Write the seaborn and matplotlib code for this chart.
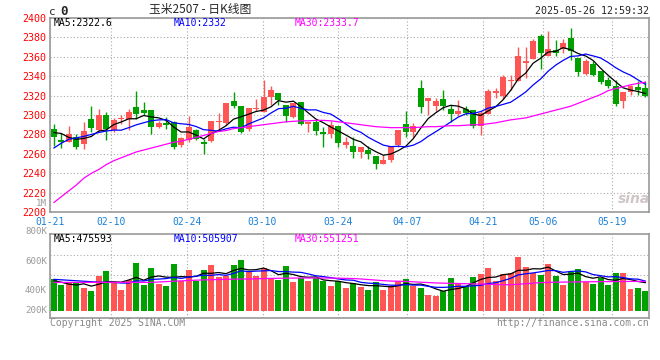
import numpy as np
import pandas as pd
import seaborn as sns
import matplotlib.pyplot as plt

# trading days shown (DCE calendar, holidays removed)
holidays = ["2025-01-28", "2025-01-29", "2025-01-30", "2025-01-31", "2025-02-03",
            "2025-02-04", "2025-04-04", "2025-05-01", "2025-05-02", "2025-05-05"]
tick_dates = ["01-21", "02-10", "02-24", "03-10", "03-24", "04-07", "04-21", "05-06", "05-19"]

opens = [2286, 2274, 2272, 2277, 2270, 2296, 2284.5, 2300, 2284.5, 2296,
         2296, 2308, 2305, 2305, 2288, 2292, 2293, 2269.4, 2274, 2284.6,
         2272, 2273, 2292.5, 2292, 2314, 2309, 2286, 2306, 2302.6, 2319,
         2323, 2310, 2298, 2313, 2291, 2293, 2282.5, 2280, 2289, 2269,
         2268, 2262, 2264.4, 2258, 2250, 2253.5, 2269.4, 2290.6, 2282.6, 2328,
         2314.5, 2309.4, 2316, 2306, 2300.7, 2306, 2305, 2289, 2301, 2323,
         2319.5, 2334.6, 2335, 2353, 2357.5, 2381.7, 2361, 2367, 2368, 2379,
         2359, 2342, 2352, 2345, 2336, 2330, 2314.5, 2323.6, 2329, 2328]
highs = [2291, 2281, 2289, 2280.5, 2293, 2309, 2306, 2303, 2297, 2300,
         2306, 2325, 2313, 2305, 2294, 2298, 2294, 2277, 2299, 2286,
         2275.5, 2294, 2302, 2312, 2324, 2309, 2307, 2316, 2336, 2330,
         2323, 2310, 2312, 2313, 2293, 2296, 2288, 2294, 2289, 2277,
         2277, 2267, 2268, 2258, 2259, 2268, 2284.6, 2303.6, 2292, 2336,
         2317, 2317.6, 2326, 2310, 2315, 2309, 2305, 2304, 2327, 2328,
         2341, 2341, 2370, 2370, 2378, 2383, 2386.7, 2377, 2377.6, 2389,
         2359, 2357.5, 2355.5, 2345, 2339, 2335.6, 2324, 2331, 2334.6, 2334.6]
lows = [2268, 2266, 2272, 2265, 2265, 2283, 2284, 2274, 2283, 2291,
        2284.6, 2296, 2300, 2280.5, 2287, 2285.6, 2265, 2267, 2272, 2274,
        2260, 2272, 2284, 2290, 2307, 2281.6, 2284, 2304, 2302.6, 2310.6,
        2310, 2293, 2297, 2290, 2283, 2279, 2267.5, 2276.6, 2267, 2266,
        2256, 2256, 2255, 2244, 2250, 2252, 2267, 2277, 2277.5, 2302,
        2300, 2304, 2305.4, 2293, 2299.4, 2300, 2287, 2279, 2301, 2317,
        2316, 2326, 2335, 2338, 2357.5, 2347, 2361, 2360.5, 2364, 2357,
        2340, 2341, 2340, 2332, 2328, 2309, 2307, 2321, 2321, 2318]
closes = [2277, 2272, 2280, 2267, 2283.5, 2287, 2300, 2285.6, 2294.6, 2297,
          2303, 2300.7, 2302, 2287.6, 2292, 2290, 2267, 2276, 2288, 2275.5,
          2270.5, 2294, 2293, 2312, 2309, 2283, 2307, 2307, 2319, 2326,
          2315, 2299, 2312, 2291, 2293, 2284, 2280, 2290, 2271, 2272,
          2262, 2267, 2260.4, 2250, 2254, 2268, 2284.6, 2283, 2289, 2308.4,
          2317, 2314, 2309.4, 2301, 2304, 2302, 2288.6, 2302, 2324.6, 2325,
          2338.7, 2336, 2360.5, 2355, 2376, 2364, 2368, 2364, 2374, 2366,
          2344, 2355.5, 2341, 2334, 2330, 2311, 2324, 2329.6, 2326, 2320]
# volume, thousands of lots
volumes = [530, 470, 488, 488, 439, 407, 568, 618, 488, 418,
           523, 705, 470, 649, 481, 460, 692, 513, 628, 513,
           628, 684, 555, 568, 684, 734, 604, 568, 653, 547,
           523, 674, 505, 541, 516, 541, 516, 463, 513, 442,
           495, 453, 418, 505, 418, 460, 513, 530, 460, 439,
           365, 355, 407, 547, 495, 460, 558, 583, 653, 516,
           586, 600, 768, 660, 594, 576, 695, 568, 470, 611,
           639, 505, 484, 541, 470, 600, 600, 428, 439, 407]

# moving averages: the first points depend on days before the window
ma5_head = [2282, 2281, 2277, 2275]
ma10_head = [2266, 2271, 2275, 2276.5, 2278, 2280, 2282, 2283.5, 2284.5]
ma30 = [2210, 2216, 2222, 2228, 2235, 2240, 2244, 2249, 2253, 2256,
        2259, 2262, 2264, 2266, 2268, 2270, 2272, 2273, 2275, 2277,
        2279, 2281, 2283, 2284, 2286, 2287, 2288, 2289, 2290, 2291,
        2292, 2293, 2293.5, 2294, 2294, 2294.5, 2294.5, 2294, 2293, 2292,
        2291, 2290, 2289, 2288, 2287.5, 2287, 2287, 2287, 2287, 2287.5,
        2288, 2288, 2288.5, 2289, 2289, 2289.5, 2290, 2290, 2291, 2292,
        2293.5, 2295, 2296, 2297, 2299, 2301, 2303, 2305, 2307, 2309,
        2312, 2315, 2318, 2321, 2325, 2327, 2329, 2331, 2332.5, 2333.7]
vol_ma5_head = [515, 500, 480, 470]
vol_ma10_head = [530, 525, 520, 515, 510, 505, 500, 498, 497]
vol_ma30 = [498, 498, 498, 498, 498, 498, 498, 498, 498, 498,
            498, 498, 498, 498, 502, 506, 510, 514, 518, 521,
            524, 526, 528, 530, 532, 533, 534, 536, 538, 540,
            541, 542, 543, 544, 544, 544, 544, 543, 542, 540,
            538, 534, 528, 522, 516, 512, 510, 508, 504, 500,
            496, 492, 490, 488, 486, 484, 482, 480, 478, 476,
            474, 473, 478, 484, 490, 495, 498, 500, 501, 502,
            503, 504, 505, 506, 506, 507, 507, 508, 508, 508]

ma_labels = ["MA5:2322.6", "MA10:2332", "MA30:2333.7"]
vol_ma_labels = ["MA5:475593", "MA10:505907", "MA30:551251"]
price_ticks = list(range(2200, 2401, 20))
vol_labels = ["1M", "800K", "600K", "400K", "200K"]

RED, GREEN = "#ff5555", "#00a000"
MA_COLORS = ["black", "#0000ff", "#ff00ff"]
GRID = dict(color="#aaaaaa", linestyle=(0, (1, 2)), linewidth=0.8)

days = pd.bdate_range("2025-01-21", "2025-05-26")
days = days[~days.isin(pd.to_datetime(holidays))]
labels = days.strftime("%m-%d")
df = pd.DataFrame({"open": opens, "high": highs, "low": lows, "close": closes,
                   "vol": volumes}, index=labels)
df["x"] = np.arange(len(df))
df["up"] = df["close"] >= df["open"]
df["ma5"] = df["close"].rolling(5).mean()
df["ma10"] = df["close"].rolling(10).mean()
df.iloc[:4, df.columns.get_loc("ma5")] = ma5_head
df.iloc[:9, df.columns.get_loc("ma10")] = ma10_head
df["ma30"] = ma30
df["vma5"] = df["vol"].rolling(5).mean()
df["vma10"] = df["vol"].rolling(10).mean()
df.iloc[:4, df.columns.get_loc("vma5")] = vol_ma5_head
df.iloc[:9, df.columns.get_loc("vma10")] = vol_ma10_head
df["vma30"] = vol_ma30

sns.set_style("white")
plt.rcParams["font.family"] = ["DejaVu Sans Mono", "Noto Sans CJK SC"]
W, H = 660, 360


def fx(px):
    return px / W


def fy(py):
    return 1 - py / H


fig = plt.figure(figsize=(6.6, 3.6), dpi=100)
ax = fig.add_axes([fx(50), fy(212.3), 599 / W, 194.6 / H])
axv = fig.add_axes([fx(50), fy(318.3), 599 / W, 84.3 / H])

# sina's date grid runs on a slightly wider step than the candles
tick_idx = [labels.get_loc(d) for d in tick_dates]
grid_x = [i * 7.6 / 7.5 - 0.507 for i in tick_idx]

colors = np.where(df["up"], RED, GREEN)
body_lo = df[["open", "close"]].min(axis=1)
body_h = (df["close"] - df["open"]).abs().clip(lower=0.9)
ax.vlines(df["x"], df["low"], df["high"], colors=colors, linewidth=1, zorder=2)
ax.bar(df["x"], body_h, bottom=body_lo, width=0.8, color=colors, linewidth=0, zorder=3)
for col, c in zip(["ma5", "ma10", "ma30"], MA_COLORS):
    sns.lineplot(x=df["x"], y=df[col], ax=ax, color=c, linewidth=0.9, legend=False, zorder=4)

ax.set_xlim(-0.4, 79.47)
ax.set_ylim(2200, 2400)
ax.set_yticks(price_ticks)
ax.set_xticks(grid_x)
ax.set_xticklabels(tick_dates)
ax.tick_params(axis="y", length=0, pad=3, labelcolor="#ff0000", labelsize=7.2)
ax.tick_params(axis="x", length=0, pad=3.3, labelcolor="#1a80d8", labelsize=7)
ax.grid(True, **GRID)
ax.set_xlabel("")
ax.set_ylabel("")

vol_base = 200
axv.bar(df["x"], df["vol"] - vol_base, bottom=vol_base, width=0.8, color=colors,
        linewidth=0, zorder=2)
for col, c in zip(["vma5", "vma10", "vma30"], MA_COLORS):
    sns.lineplot(x=df["x"], y=df[col], ax=axv, color=c, linewidth=0.9, legend=False, zorder=4)
axv.set_xlim(-0.4, 79.47)
axv.set_ylim(120, 1007)
axv.set_yticks([365, 576, 786])
axv.set_yticklabels([])
axv.set_xticks(grid_x)
axv.set_xticklabels([])
axv.tick_params(length=0)
axv.grid(True, **GRID)
axv.set_xlabel("")
axv.set_ylabel("")

for a in (ax, axv):
    for s in a.spines.values():
        s.set_color("#999999")
        s.set_linewidth(1.2)

# volume axis labels sit where sina prints them
for t, py in zip(vol_labels, [203.5, 231, 261, 290.5, 310.5]):
    fig.text(fx(47), fy(py), t, ha="right", va="center", color="#999999", fontsize=6.6)

for t, px, c in zip(ma_labels, [54, 174, 295], MA_COLORS):
    fig.text(fx(px), fy(23.5), t, ha="left", va="center", color=c, fontsize=7)
for t, px, c in zip(vol_ma_labels, [54, 174, 295], MA_COLORS):
    fig.text(fx(px), fy(238.5), t, ha="left", va="center", color=c, fontsize=7)

fig.text(fx(49), fy(12), "c", ha="left", va="center", fontsize=8)
fig.text(fx(60), fy(11.5), "0", ha="left", va="center", fontsize=9, fontweight="bold")
fig.text(fx(200), fy(9.5), "玉米2507 - 日K线图", ha="center", va="center", fontsize=8.5,
         family=["Noto Sans CJK SC", "DejaVu Sans"])
fig.text(fx(649), fy(11.5), "2025-05-26 12:59:32", ha="right", va="center", fontsize=7.2)
fig.text(fx(50), fy(323.5), "Copyright 2025 SINA.COM", ha="left", va="center",
         color="#888888", fontsize=7)
fig.text(fx(649), fy(323.5), "http://finance.sina.com.cn", ha="right", va="center",
         color="#888888", fontsize=7)
fig.text(fx(634), fy(199), "sina", ha="center", va="center", color="#cfc6c6",
         fontsize=10, fontstyle="italic", fontweight="bold", family="DejaVu Sans")

fig.savefig("out.png", dpi=100, facecolor="white")
